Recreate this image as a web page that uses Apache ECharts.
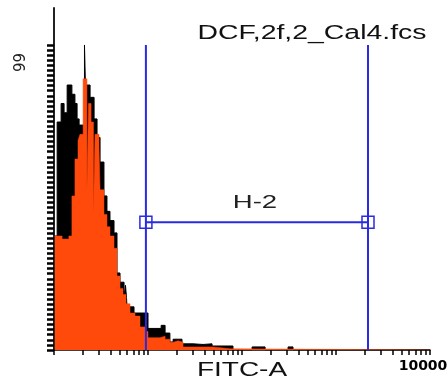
<!DOCTYPE html>
<html>
<head>
<meta charset="utf-8">
<script src="https://cdn.jsdelivr.net/npm/echarts@6/dist/echarts.min.js"></script>
<style>
html,body{margin:0;padding:0;background:#fff;}
#chart{width:448px;height:382px;}
</style>
</head>
<body>
<div id="chart"></div>
<script>
// ---- data (FITC-A intensity bin left edges, event counts) ----
const blackX = [1.02,1.08,1.19,1.28,1.38,1.55,1.67,1.76,1.85,2.11,2.16,2.42,2.67,2.87,3.09,3.40,3.66,3.94,4.35,4.68,5.04,5.56,5.76,5.91,5.98,7.10,10.0,13.8,15.2,17.1,18.5,23.0,30.1,38.5,48.0,80.2,128,176,309,349,10000];
const blackY = [37,74,80,77,86,83,80,75,73,99,86,82,75,69,61,50,45,42,38,25,22,17,21,17,14,12,7,8,5.5,2.6,3.5,2,1.8,2,1.3,0,1,0,1,0,0];
const orangeX = [1.02,1.22,1.44,1.55,1.67,1.80,1.89,2.04,2.24,2.33,2.48,2.63,2.73,3.01,3.09,3.40,3.66,3.94,4.35,4.68,5.04,5.42,5.83,6.44,7.27,8.22,9.29,10.0,13.4,15.2,17.1,18.5,20.9,23.6,49.1,74.5,10000];
const orangeY = [37,36,37,50,62,68,70,88,52,80,74,44,70,66,52,44,40,37,33,24,20,18,15,12,11,7.5,6,4,4.5,3.5,2.5,3,2.5,1,0.4,0,0];
// gate H-2
const gateLow = 9.5, gateHigh = 2190, gateLevel = 41.5, gateTop = 99;
const gateName = 'H-2';
// axis texts
const titleText = 'DCF,2f,2_Cal4.fcs';
const xAxisName = 'FITC-A';
const xLabelValues = [10000];
const yLabelValues = [99];
const xTickMultipliers = [1,2,3,4,5,6,7,8,9];
const xDecades = [1,10,100,1000];
const yTickCount = 60;

const xTicks = [];
xDecades.forEach(d => xTickMultipliers.forEach(m => xTicks.push(d*m)));
xTicks.push(10000);
const yTicks = [];
for (let i = 0; i <= yTickCount; i++) yTicks.push(+(i*99/yTickCount).toFixed(3));

const zip = (xs, ys) => xs.map((x,i)=>[x, ys[i]]);

const chart = echarts.init(document.getElementById('chart'), null, {renderer:'canvas'});
const blue = '#2a2ae0';
const option = {
  backgroundColor:'#fff',
  animation:false,
  grid:{left:54,right:18,top:8,bottom:32,containLabel:false,outerBoundsMode:'none'},
  xAxis:{
    type:'log', logBase:10, min:1, max:10000,
    axisLine:{show:true,lineStyle:{color:'#000',width:1.5}},
    axisTick:{show:true,customValues:xTicks,length:5,lineStyle:{color:'#000',width:1.5}},
    minorTick:{show:false},
    splitLine:{show:false},
    axisLabel:{show:true,customValues:xLabelValues,formatter:v=>String(v),fontFamily:'DejaVu Sans',fontWeight:'bold',fontSize:14,color:'#000',margin:9,padding:[0,14,0,0]}
  },
  yAxis:{
    type:'value', min:0, max:111,
    axisLine:{show:true,lineStyle:{color:'#222',width:2}},
    axisTick:{show:true,customValues:yTicks,length:7,lineStyle:{color:'#000',width:2.5}},
    splitLine:{show:false},
    axisLabel:{show:true,customValues:yLabelValues,formatter:v=>String(Math.round(v)),rotate:90,align:'right',padding:[0,8,0,0],margin:25,fontFamily:'DejaVu Sans',fontSize:15,color:'#222'}
  },
  series:[
    {type:'line',name:'black',step:'end',data:zip(blackX,blackY),showSymbol:false,
     lineStyle:{color:'#000',width:1},areaStyle:{color:'#000',opacity:1},z:2},
    {type:'line',name:'orange',step:'end',data:zip(orangeX,orangeY),showSymbol:false,
     lineStyle:{color:'#ff4a0c',width:0.5},areaStyle:{color:'#ff4a0c',opacity:1},z:3},
    {type:'line',name:'gateL',data:[[gateLow,0],[gateLow,gateTop]],showSymbol:false,lineStyle:{color:blue,width:2},z:5},
    {type:'line',name:'gateR',data:[[gateHigh,0],[gateHigh,gateTop]],showSymbol:false,lineStyle:{color:blue,width:2},z:5},
    {type:'line',name:'gateH',data:[[gateLow,gateLevel],[gateHigh,gateLevel]],symbol:'rect',symbolSize:12,showSymbol:true,
     lineStyle:{color:blue,width:2},itemStyle:{color:'rgba(0,0,0,0)',borderColor:blue,borderWidth:1.5},z:6}
  ]
};
chart.setOption(option);

const mid = Math.sqrt(gateLow*gateHigh);
const p = chart.convertToPixel({gridIndex:0},[mid,gateLevel]);
const g = chart.getModel().getComponent('grid',0).coordinateSystem.getRect();
chart.setOption({graphic:[
  {type:'text',x:312,y:33,scaleX:1.42,style:{text:titleText,font:'20px "Liberation Sans", Arial, sans-serif',fill:'#111',align:'center',verticalAlign:'middle'}},
  {type:'text',x:g.x+g.width/2,y:370,scaleX:1.4,style:{text:xAxisName,font:'20px "Liberation Sans", Arial, sans-serif',fill:'#111',align:'center',verticalAlign:'middle'}},
  {type:'text',x:p[0]-2,y:p[1]-19,scaleX:1.45,style:{text:gateName,font:'19px "Liberation Sans", Arial, sans-serif',fill:'#222',align:'center',verticalAlign:'middle'}}
]});
</script>
</body>
</html>
